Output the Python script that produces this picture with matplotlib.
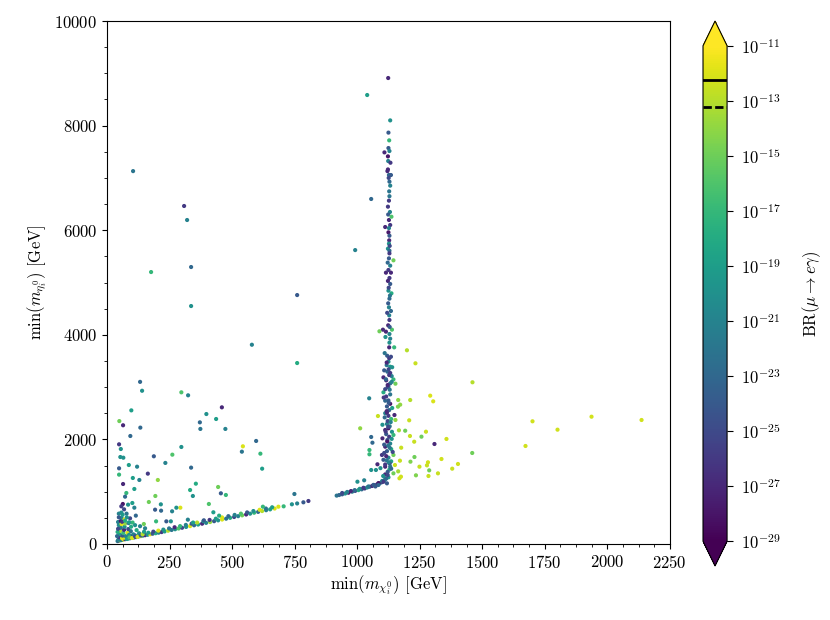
import numpy as np
import matplotlib
matplotlib.use("Agg")
import matplotlib.pyplot as plt
from matplotlib.colors import LogNorm
from matplotlib.ticker import AutoMinorLocator, MultipleLocator

plt.rcParams['font.family'] = 'serif'
plt.rcParams['font.serif'] = ['cmr10']
plt.rcParams['mathtext.fontset'] = 'cm'
plt.rcParams['axes.formatter.use_mathtext'] = True
plt.rcParams['font.size'] = 12

# masses in GeV, colour = log10 BR(mu -> e gamma)

# points along m_eta ~ m_chi
diag_x = [42, 46, 50, 55, 60, 66, 72, 78, 85, 92, 100, 108, 116, 125, 134, 143, 152, 162, 172, 182,
          194, 206, 218, 230, 244, 258, 272, 286, 300, 316, 332, 348, 364, 380, 396, 412, 428, 444, 460, 476,
          492, 508, 524, 540, 556, 572, 588, 604, 620, 636, 652, 670, 685, 706, 739, 760, 785, 805, 918, 928,
          940, 952, 965, 980, 992, 1005, 1018, 1030, 1040, 1050, 1060, 1070, 1080, 1090, 1098, 1105, 1110, 1115]
diag_y = [55, 62, 70, 72, 78, 85, 92, 96, 104, 110, 118, 125, 132, 142, 150, 160, 168, 176, 186, 196,
          206, 216, 228, 240, 254, 268, 282, 296, 310, 326, 342, 358, 372, 388, 404, 420, 436, 452, 468, 484,
          500, 516, 532, 548, 564, 580, 598, 614, 630, 646, 662, 678, 713, 720, 759, 775, 797, 822, 925, 936,
          950, 965, 980, 1000, 1015, 1030, 1045, 1062, 1080, 1095, 1110, 1125, 1140, 1160, 1180, 1200, 1225, 1250]
diag_br = [-21, -25, -13, -19, -22, -12, -26, -20, -17, -23, -12, -21, -25, -19, -13, -22, -27, -20, -12, -24,
           -18, -21, -26, -19, -13, -22, -20, -16, -25, -20, -12, -23, -19, -27, -21, -14, -24, -20, -12, -22,
           -18, -25, -21, -15, -27, -20, -17, -23, -13, -21, -19, -12, -12, -17, -20, -21, -24, -26, -22, -23,
           -24, -20, -28, -21, -25, -18, -23, -26, -20, -24, -27, -22, -26, -21, -25, -28, -22, -20]

# second row of the same band, slightly heavier eta
diag2_x = [48, 58, 70, 82, 96, 112, 128, 146, 165, 185, 205, 225, 248, 270, 292, 315, 338, 360, 385, 410,
           435, 460, 485, 510, 535, 560, 585, 610, 635, 660, 940, 960, 975, 990, 1010, 1025, 1045, 1065, 1085, 1100]
diag2_y = [100, 112, 122, 135, 150, 165, 180, 198, 215, 236, 255, 275, 298, 320, 342, 365, 388, 410, 435, 460,
           484, 508, 532, 556, 580, 604, 630, 654, 678, 702, 975, 995, 1012, 1030, 1055, 1075, 1100, 1130, 1165, 1205]
diag2_br = [-20, -24, -12, -18, -26, -21, -13, -23, -19, -25, -12, -20, -22, -27, -17, -21, -24, -13, -20, -26,
            -19, -12, -23, -21, -16, -24, -20, -12, -22, -19, -25, -21, -27, -23, -20, -26, -22, -24, -28, -21]

# crowded corner near the origin
corner_x = [45, 48, 50, 52, 55, 47, 60, 62, 65, 68, 70, 72, 75, 80, 82, 85, 88, 90, 95, 100,
            105, 112, 118, 122, 128, 135, 142, 148, 152, 44, 55, 58, 62, 70, 78, 92, 102, 112, 132, 40,
            42, 44, 58, 96, 86]
corner_y = [80, 130, 190, 250, 310, 360, 110, 160, 210, 270, 330, 390, 150, 95, 215, 285, 175, 125, 245, 115,
            185, 145, 265, 135, 205, 165, 185, 235, 300, 420, 440, 500, 560, 470, 580, 490, 410, 360, 340, 150,
            230, 290, 380, 330, 400]
corner_br = [-21, -26, -19, -13, -22, -20, -12, -24, -17, -27, -20, -14, -21, -19, -12, -25, -20, -16, -22, -12,
             -21, -25, -18, -12, -20, -24, -13, -19, -21, -21, -28, -21, -19, -12, -22, -25, -17, -20, -21, -23,
             -18, -25, -12, -18, -23]

# scattered points above the diagonal
spread_x = [1040, 104, 308, 320, 1056, 992, 336, 176, 336, 760, 579, 760, 132, 140, 297, 324, 97, 49, 64, 133,
            93, 459, 397, 436, 371, 373, 473, 48, 55, 297, 543, 596, 539, 613, 53, 65, 187, 261, 233, 87,
            120, 336, 620, 48, 48, 163, 103, 129, 203, 355, 444, 64, 109, 77, 332, 455, 475, 343, 72, 749,
            193, 167, 63, 57, 84, 101, 68, 109, 215, 192, 216, 260, 293, 277, 407, 425, 47, 57, 115, 47,
            79, 88, 60, 72, 147, 196, 237, 255, 323, 344, 387, 448, 623]
spread_y = [8585, 7130, 6463, 6195, 6597, 5620, 5296, 5200, 4550, 4760, 3810, 3460, 3100, 2930, 2900, 2843, 2555, 2350, 2270, 2225,
            2065, 2613, 2485, 2390, 2326, 2200, 2200, 1906, 1816, 1855, 1868, 1970, 1765, 1727, 1663, 1650, 1677, 1708, 1550, 1510,
            1478, 1460, 1440, 1447, 1326, 1345, 1262, 1224, 1224, 1153, 1090, 1147, 1052, 975, 1032, 969, 937, 918, 905, 956,
            918, 803, 765, 720, 752, 784, 663, 694, 758, 656, 637, 625, 694, 694, 765, 606, 580, 600, 542, 510,
            510, 415, 425, 446, 382, 433, 433, 433, 465, 410, 453, 542, 713]
spread_br = [-19, -22, -26, -21, -23, -21, -23, -17, -20, -24, -21, -18, -23, -20, -16, -21, -19, -15, -27, -23,
             -23, -27, -20, -19, -23, -22, -21, -26, -20, -20, -12, -23, -22, -17, -20, -20, -24, -16, -21, -19,
             -21, -23, -19, -24, -17, -26, -19, -21, -14, -18, -15, -27, -19, -17, -18, -24, -17, -20, -23, -22,
             -15, -15, -28, -26, -20, -19, -25, -21, -20, -24, -23, -21, -12, -20, -16, -19, -21, -20, -23, -24,
             -20, -19, -26, -18, -15, -17, -24, -20, -21, -19, -24, -18, -17]

# upper part of the vertical band
col_hi_x = [1124, 1132, 1125, 1128, 1125, 1129, 1109, 1123, 1124, 1133, 1123, 1121, 1127, 1135, 1129, 1132, 1128, 1127, 1123, 1131,
            1127, 1112, 1132, 1127, 1125, 1129, 1128, 1127, 1123, 1129, 1129, 1127, 1132, 1125, 1115, 1135, 1129, 1123, 1132, 1125,
            1137, 1129, 1124, 1127, 1135, 1128, 1129, 1124, 1139, 1103, 1115, 1129, 1113, 1132, 1129, 1128,
            1130, 1120, 1131, 1126, 1122, 1130, 1124, 1129, 1126]
col_hi_y = [8910, 8100, 7866, 7718, 7571, 7514, 7488, 7412, 7323, 7290, 7162, 7130, 7055, 7055, 6928, 6852, 6743, 6565, 6450, 6348,
            6195, 6061, 6099, 6040, 5959, 5895, 5806, 5743, 5647, 5608, 5557, 5462, 5322, 5239, 5188, 5188, 5086, 5030, 4972, 4844,
            4793, 4691, 4602, 4525, 4455, 4372, 4283, 4181, 4098, 4098, 4060, 4015, 3958, 3926, 3850, 3760,
            4150, 4420, 4750, 4900, 5380, 5700, 6300, 6650, 7000]
col_hi_br = [-27, -20, -24, -17, -24, -21, -27, -28, -21, -26, -27, -27, -23, -24, -23, -21, -22, -26, -26, -21,
             -27, -27, -26, -21, -28, -24, -27, -20, -20, -23, -26, -24, -21, -26, -27, -27, -26, -27, -24, -20,
             -18, -23, -24, -21, -23, -21, -26, -27, -16, -27, -27, -21, -20, -21, -20, -27,
             -24, -25, -22, -25, -23, -25, -24, -22, -25]

# lower, denser part of the vertical band
col_lo_x = [1125, 1132, 1121, 1105, 1116, 1132, 1145, 1153, 1132, 1125, 1105, 1125, 1132, 1112, 1119, 1112, 1119, 1125, 1149, 1136,
            1119, 1101, 1125, 1112, 1139, 1145, 1101, 1121, 1132, 1112, 1136, 1119, 1099, 1145, 1125, 1105, 1136, 1112, 1093, 1129,
            1145, 1112, 1125, 1105, 1119, 1085, 1073,
            1120, 1128, 1118, 1126, 1138, 1122, 1130, 1116, 1128, 1122, 1130, 1116, 1128, 1124, 1108, 1130, 1118, 1122, 1132, 1115]
col_lo_y = [3486, 3390, 3294, 3186, 3129, 3270, 3147, 3065, 3071, 3008, 2900, 2745, 2680, 2740, 2630, 2500, 2510, 2450, 2466, 2390,
            2295, 2280, 2212, 2180, 2145, 2084, 2020, 1990, 1920, 1860, 1815, 1775, 1702, 1702, 1650, 1610, 1580, 1478, 1450, 1425,
            1351, 1330, 1275, 1191, 1160, 1128, 1100,
            3600, 3550, 3420, 3340, 3210, 3000, 2950, 2820, 2560, 2350, 2250, 2100, 2050, 1880, 1740, 1540, 1600, 1380, 1480, 1250]
col_lo_br = [-20, -19, -23, -27, -27, -26, -17, -15, -23, -21, -18, -24, -28, -23, -24, -21, -27, -26, -27, -17,
             -21, -20, -28, -27, -20, -17, -27, -24, -21, -27, -18, -24, -26, -15, -21, -24, -19, -27, -20, -18,
             -15, -27, -20, -26, -24, -23, -24,
             -24, -26, -22, -25, -21, -25, -22, -26, -23, -25, -22, -24, -26, -22, -25, -25, -22, -24, -22, -23]

col2_x = [1110, 1135, 1118, 1140, 1108, 1128, 1115, 1138, 1122, 1112, 1132, 1106, 1126, 1140, 1118,
          1110, 1134, 1124, 1114, 1138, 1120, 1108, 1130, 1142, 1116, 1126, 1112, 1136, 1122, 1104]
col2_y = [3650, 3580, 3470, 3380, 3320, 3230, 3150, 3100, 3040, 2960, 2860, 2800, 2700, 2600, 2540,
          2420, 2330, 2240, 2150, 2010, 1960, 1900, 1840, 1760, 1680, 1560, 1520, 1440, 1320, 1300]
col2_br = [-22, -25, -27, -20, -24, -26, -23, -21, -27, -25, -22, -26, -24, -19, -27,
           -23, -21, -25, -26, -20, -28, -24, -22, -25, -27, -21, -26, -23, -25, -20]

# points right of the band (mostly large BR)
right_x = [1233, 1461, 1292, 1304, 1212, 1164, 1172, 1163, 1208, 1153, 1083, 1048, 1167, 1192, 1275, 1211, 1257, 1228, 1357, 1309,
           1176, 1460, 1229, 1337, 1171, 1213, 1283, 1279, 1249, 1403, 1380, 1288, 1151, 1164, 1323, 1235, 1285, 1175, 1169, 1012,
           1049, 1049, 1056, 1061, 1081, 1056, 1075, 1028, 1001, 1199, 1701, 1801, 1937, 2137, 1673, 1148, 1145, 1137, 1089]
right_y = [3455, 3092, 2836, 2728, 2753, 2753, 2664, 2626, 2365, 2371, 2447, 2786, 2174, 2166, 2147, 2065, 2052, 1956, 2008, 1912,
           1841, 1740, 1663, 1625, 1593, 1574, 1562, 1504, 1478, 1530, 1440, 1408, 1510, 1389, 1351, 1313, 1300, 1287, 1256, 2212,
           1797, 1715, 2046, 1937, 1524, 1415, 1415, 1218, 1191, 3704, 2346, 2186, 2434, 2371, 1874, 3760, 5424, 6258, 4067]
right_br = [-12.5, -13, -12, -12, -13, -14, -14, -14.5, -12.5, -14, -12.5, -21, -13.5, -15, -12.5, -12.5, -15, -12.5, -12.3, -27,
            -12.5, -15, -15, -12.3, -12.5, -14.5, -12.3, -12.5, -12.5, -12.3, -12.5, -15, -12.5, -13.5, -12.5, -14.5, -12.5, -12.3, -12.3, -14,
            -17, -17, -23, -23, -27, -20, -20, -21, -20, -13, -12.3, -12.3, -12.2, -12.3, -12.3, -17, -15, -16, -15]

meg_limit = 5.7e-13
meg2_reach = 6e-14
cbar_ticks = [1e-11, 1e-13, 1e-15, 1e-17, 1e-19, 1e-21, 1e-23, 1e-25, 1e-27, 1e-29]

x = np.concatenate([diag_x, diag2_x, corner_x, spread_x, col_hi_x, col_lo_x, col2_x, right_x])
y = np.concatenate([diag_y, diag2_y, corner_y, spread_y, col_hi_y, col_lo_y, col2_y, right_y])
br = 10.0 ** np.concatenate([diag_br, diag2_br, corner_br, spread_br, col_hi_br, col_lo_br, col2_br, right_br])

fig = plt.figure(figsize=(8.3, 6.2), dpi=100)
ax = fig.add_axes([0.129, 0.1226, 0.678, 0.8435])
cax = fig.add_axes([0.847, 0.0871, 0.029, 0.879])

sc = ax.scatter(x, y, c=br, cmap='viridis', norm=LogNorm(1e-29, 1e-11),
                s=9, marker='o', linewidths=0)

ax.set_xlim(0, 2250)
ax.set_ylim(0, 10000)
ax.xaxis.set_major_locator(MultipleLocator(250))
ax.yaxis.set_major_locator(MultipleLocator(2000))
ax.xaxis.set_minor_locator(AutoMinorLocator(4))
ax.yaxis.set_minor_locator(AutoMinorLocator(4))
ax.set_xlabel(r'min$(m_{\chi^0_i})$ [GeV]', labelpad=2)
ax.set_ylabel(r'min$(m_{\eta^0_i})$ [GeV]')

cbar = fig.colorbar(sc, cax=cax, extend='both', ticks=cbar_ticks)
cbar.ax.minorticks_off()
cbar.ax.tick_params(length=4, pad=6)
cbar.set_label(r'BR$(\mu\to e\gamma)$', labelpad=14)
cbar.ax.axhline(meg_limit, color='k', lw=2)
cbar.ax.axhline(meg2_reach, color='k', lw=2, ls=(0, (3, 1.2)))

fig.savefig('out.png', dpi=100)
